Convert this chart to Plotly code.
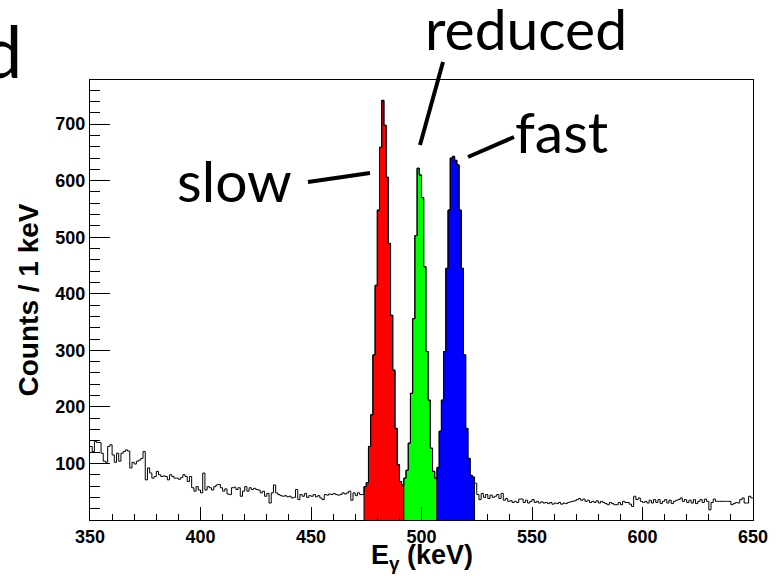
import plotly.graph_objects as go

# ---------------- data (counts per 1 keV bin) ----------------
bg_left_start = 350
bg_left = [
    130, 121, 139, 137, 137, 118, 104, 102, 130, 133,
    115, 102, 118, 104, 118, 121, 124, 122, 92, 102,
    99, 104, 106, 109, 121, 71, 92, 83, 74, 77,
    86, 80, 77, 78, 77, 71, 80, 77, 74, 74,
    72, 75, 80, 77, 68, 77, 57, 51, 59, 53,
    48, 83, 53, 59, 57, 53, 59, 62, 63, 57,
    51, 55, 46, 45, 57, 58, 54, 57, 42, 51,
    59, 51, 57, 54, 56, 54, 53, 48, 51, 42,
    47, 30, 48, 62, 48, 45, 43, 42, 43, 41,
    42, 39, 40, 54, 36, 45, 42, 47, 40, 43,
    42, 45, 41, 43, 39, 36, 45, 44, 46, 45,
    47, 45, 44, 45, 48, 46, 48, 51, 35, 48,
    43, 48, 45, 45,
]
slow_start = 474
slow = [59, 66, 130, 186, 292, 415, 548, 659, 742, 698, 606, 489, 362, 265, 162, 98, 68, 62]
reduced_start = 492
reduced = [74, 88, 136, 224, 356, 503, 622, 610, 570, 448, 298, 212, 127, 86, 74]
fast_start = 507
fast = [93, 157, 212, 298, 445, 548, 640, 643, 636, 628, 548, 445, 292, 162, 109, 79, 76]
bg_right_start = 524
bg_right = [
    65, 45, 36, 47, 40, 45,
    38, 44, 40, 42, 45, 38, 47, 35, 38, 33,
    34, 31, 33, 31, 37, 37, 31, 35, 30, 33,
    36, 31, 33, 30, 32, 30, 31, 29, 31, 28,
    30, 29, 31, 28, 30, 29, 31, 32, 33, 34,
    36, 38, 35, 37, 33, 35, 31, 33, 31, 34,
    30, 33, 31, 29, 27, 31, 29, 27, 27, 31,
    27, 33, 31, 31, 28, 24, 42, 36, 39, 33,
    31, 33, 30, 35, 30, 36, 31, 36, 29, 33,
    36, 30, 35, 29, 33, 35, 36, 39, 33, 36,
    31, 35, 30, 36, 29, 33, 36, 31, 37, 33,
    18, 31, 37, 33, 33, 33, 33, 33, 33, 33,
    27, 29, 31, 30, 36, 39, 30, 30, 42, 39,
]

x_ticks = [350, 400, 450, 500, 550, 600, 650]
y_ticks = [100, 200, 300, 400, 500, 600, 700]

# ---------------- figure ----------------
W, H = 781, 576
ML, MR, MT, MB = 90, 28, 80, 56
PW, PH = W - ML - MR, H - MT - MB


def px(xp):
    return (xp - ML) / PW


def py(yp):
    return (H - MB - yp) / PH


fig = go.Figure()


def filled_step(start, vals, color):
    xs = [start] + [start + i for i in range(len(vals))] + [start + len(vals)] * 2
    ys = [0] + list(vals) + [vals[-1], 0]
    fig.add_trace(go.Scatter(x=xs, y=ys, mode="lines", line_shape="hv",
                             fill="toself", fillcolor=color,
                             line=dict(color="black", width=1),
                             hoverinfo="skip", showlegend=False))


filled_step(slow_start, slow, "#ff0000")
filled_step(reduced_start, reduced, "#00ff00")
filled_step(fast_start, fast, "#0000ff")

all_counts = bg_left + slow + reduced + fast + bg_right
edges = [bg_left_start + i for i in range(len(all_counts) + 1)]
fig.add_trace(go.Scatter(x=edges, y=all_counts + [all_counts[-1]], mode="lines",
                         line_shape="hv", line=dict(color="black", width=1),
                         hoverinfo="skip", showlegend=False))

tick_font = dict(family="Liberation Sans", size=18, color="black", weight="bold")

fig.update_xaxes(range=[350, 650], tickmode="array", tickvals=x_ticks,
                 ticktext=[str(v) for v in x_ticks],
                 ticks="inside", ticklen=13, tickwidth=1, tickcolor="black",
                 minor=dict(tickvals=list(range(350, 651, 10)), ticks="inside",
                            ticklen=6, tickwidth=1, tickcolor="black"),
                 showline=True, linecolor="black", linewidth=1, mirror=True,
                 showgrid=False, zeroline=False, tickfont=tick_font)
fig.update_yaxes(range=[0, 778], tickmode="array", tickvals=y_ticks,
                 ticktext=[str(v) for v in y_ticks],
                 ticks="inside", ticklen=20, tickwidth=1, tickcolor="black",
                 minor=dict(tickvals=list(range(20, 780, 20)), ticks="inside",
                            ticklen=10, tickwidth=1, tickcolor="black"),
                 showline=True, linecolor="black", linewidth=1, mirror=True,
                 showgrid=False, zeroline=False, tickfont=tick_font,
                 title=dict(text="Counts / 1 keV", standoff=8,
                            font=dict(family="Liberation Sans", size=28,
                                      color="black", weight="bold")))

# x-axis title as an annotation for exact placement
fig.add_annotation(text="E<sub>γ</sub> (keV)", x=0.5, y=py(576), xref="paper", yref="paper",
                   showarrow=False, xanchor="center", yanchor="bottom",
                   font=dict(family="Liberation Sans", size=27, color="black", weight="bold"))

label_font = dict(family="Lato", size=57, color="black")
annos = [
    ("slow", 234, 180, "center"),
    ("fast", 561, 131, "center"),
    ("reduced", 526, 28, "center"),
]
for text, xp, yp, anchor in annos:
    fig.add_annotation(text=text, x=px(xp), y=py(yp), xref="paper", yref="paper",
                       showarrow=False, xanchor=anchor, yanchor="middle", font=label_font)
fig.add_annotation(text="d", x=px(24), y=py(50), xref="paper", yref="paper",
                   showarrow=False, xanchor="right", yanchor="middle",
                   font=dict(family="Lato", size=72, color="black"))

pointer_lines = [
    (308, 182, 370, 173),
    (420, 145, 443, 62),
    (468, 157, 514, 137),
]
for x0, y0, x1, y1 in pointer_lines:
    fig.add_shape(type="line", xref="paper", yref="paper",
                  x0=px(x0), y0=py(y0), x1=px(x1), y1=py(y1),
                  line=dict(color="black", width=4))

fig.update_layout(width=W, height=H, margin=dict(l=ML, r=MR, t=MT, b=MB, autoexpand=False),
                  paper_bgcolor="white", plot_bgcolor="white")

fig.write_html("out.html")
